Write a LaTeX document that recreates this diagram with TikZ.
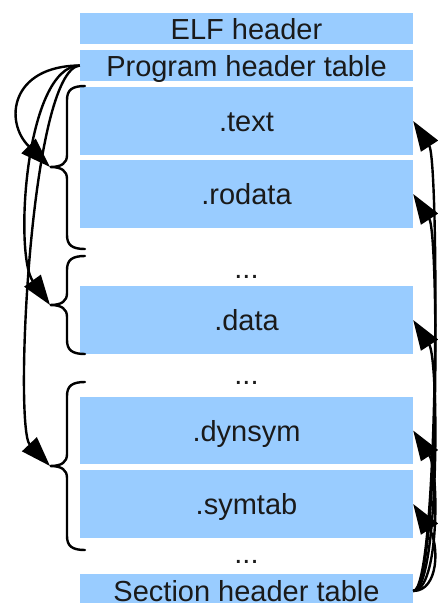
\documentclass[tikz,border=0pt]{standalone}
\usepackage{fontspec}
\setmainfont{Liberation Sans}
\usetikzlibrary{arrows.meta}
\definecolor{secblue}{HTML}{99CCFF}
\definecolor{ink}{HTML}{1A1A1A}
\begin{document}
\begin{tikzpicture}[x=1pt,y=-1pt,
  sec/.style={fill=secblue, draw=none, minimum width=333pt, inner sep=0pt,
    text height=21pt, text depth=0pt, text=ink, font=\fontsize{29}{34}\selectfont},
  gap/.style={text=ink, inner sep=0pt, anchor=base, font=\fontsize{29}{34}\selectfont},
  brace/.style={line width=2.4pt, line cap=round},
  link/.style={line width=2.4pt, -{Triangle[length=30pt,width=20pt]}}]
\useasboundingbox (0,0) rectangle (438,603);

% file layout
\node[sec, minimum height=31pt] (elf)    at (246.5,28.5) {ELF header};
\node[sec, minimum height=31pt] (pht)    at (246.5,65.5) {Program header table};
\node[sec, minimum height=68pt] (text)   at (246.5,121)  {.text};
\node[sec, minimum height=68pt] (rodata) at (246.5,194)  {.rodata};
\node[gap] (g1) at (246.5,278) {...};
\node[sec, minimum height=68pt] (data)   at (246.5,320)  {.data};
\node[gap] (g2) at (246.5,384) {...};
\node[sec, minimum height=67pt] (dynsym) at (246.5,430.5) {.dynsym};
\node[sec, minimum height=68pt] (symtab) at (246.5,504)  {.symtab};
\node[gap] (g3) at (246.5,563) {...};
\node[sec, minimum height=34pt] (sht)    at (246.5,591)  {Section header table};

% segments (braces) with their tips
\coordinate (s1) at (50,167);
\coordinate (s2) at (50,305);
\coordinate (s3) at (50,466);
\foreach \ya/\ym/\yb in {86/167/249, 256/305/354, 382/466/550}{
  \draw[brace] (85,\ya) .. controls (72,\ya) and (67,\ya+4) .. (67,\ya+14)
    -- (67,\ym-12) .. controls (67,\ym-4) and (62,\ym) .. (50,\ym)
    .. controls (62,\ym) and (67,\ym+4) .. (67,\ym+12)
    -- (67,\yb-14) .. controls (67,\yb-4) and (72,\yb) .. (85,\yb);
}

% program headers -> segments
\draw[link] (pht.west) .. controls (10,66) and (4,122) .. (s1);
\draw[link] (pht.west) .. controls (25,66) and (14,255) .. (s2);
\draw[link] (pht.west) .. controls (30,70) and (14,428) .. (s3);

% section headers -> sections
\foreach \t in {text,rodata,data,dynsym,symtab}{
  \draw[link] (sht.east) .. controls ([xshift=26pt]sht.east) and ([xshift=26pt,yshift=-40pt]\t.east) .. (\t.east);
}
\end{tikzpicture}
\end{document}
